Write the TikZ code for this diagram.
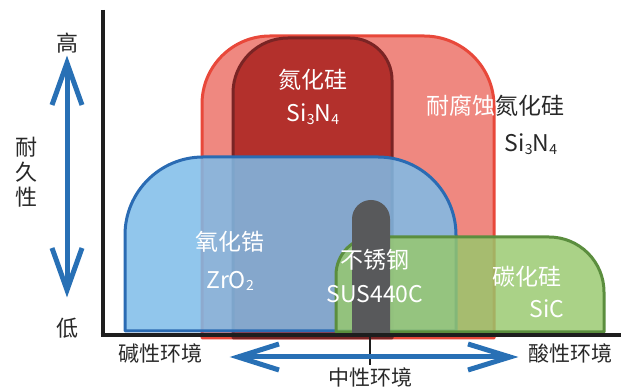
\documentclass[tikz,border=0pt]{standalone}
\usepackage{fontspec}
\newfontfamily\cjk{Noto Sans CJK SC}
\definecolor{redline}{RGB}{232,72,58}
\definecolor{redfill}{RGB}{239,136,128}
\definecolor{dredfill}{RGB}{179,48,44}
\definecolor{dredline}{RGB}{122,36,36}
\definecolor{bluefill}{RGB}{126,188,233}
\definecolor{blueline}{RGB}{42,107,179}
\definecolor{greenfill}{RGB}{151,200,108}
\definecolor{greenline}{RGB}{91,142,62}
\definecolor{steel}{RGB}{88,89,91}
\definecolor{arrowblue}{RGB}{40,112,181}
\definecolor{txt}{RGB}{40,40,40}
\definecolor{axis}{RGB}{30,30,30}
\newcommand\sbs[1]{\raisebox{-0.12em}{\fontsize{14}{14}\selectfont #1}}
\begin{document}
\begin{tikzpicture}[x=1pt,y=1pt,
  every node/.style={inner sep=0pt},
  lab/.style={font=\cjk\fontsize{22}{25}\selectfont, text=txt},
  axlab/.style={font=\cjk\fontsize{21}{24}\selectfont, text=txt},
  inlab/.style={font=\cjk\fontsize{23}{26}\selectfont, text=white},
  latin/.style={font=\cjk\fontsize{23}{26}\selectfont, text=white},
  region/.style={line width=3pt, line join=round},
  axisline/.style={line width=4pt, draw=axis},
  barrow/.style={line width=5pt, draw=arrowblue, line join=miter, line cap=butt}]
\useasboundingbox (0,0) rectangle (621,390);
% shapes
\draw[region, draw=redline, fill=redfill] (202,52) -- (202,286) arc[start angle=180,end angle=90,radius=68] -- (424,354) arc[start angle=90,end angle=0,radius=70] -- (494,52) -- cycle;
\draw[region, draw=dredline, fill=dredfill] (233,52) -- (233,297) arc[start angle=180,end angle=90,radius=55] -- (350,352) arc[start angle=90,end angle=0,radius=42] -- (392,52) -- cycle;
\draw[region, draw=blueline, fill=bluefill, fill opacity=0.85] (125,59) -- (125,155) arc[start angle=180,end angle=90,radius=78] -- (378,233) arc[start angle=90,end angle=0,radius=78] -- (456,59) -- cycle;
\draw[region, draw=greenline, fill=greenfill, fill opacity=0.82] (336,58) -- (336,115) arc[start angle=180,end angle=90,radius=38] -- (549,153) arc[start angle=90,end angle=0,radius=55] -- (604,58) -- cycle;
\fill[steel] (352,57) -- (352,171) arc[start angle=180,end angle=0,radius=19] -- (390,57) -- cycle;
% axes
\coordinate (ytop) at (102.5,380);
\coordinate (orig) at (102.5,53);
\coordinate (xstart) at (100.5,55);
\coordinate (xend) at (621,55);
\draw[axisline] (ytop) -- (orig);
\draw[axisline] (xstart) -- (xend);
% neutral tick
\coordinate (tickA) at (370,55);
\coordinate (tickB) at (370,25);
\draw[line width=2.5pt, draw=axis] (tickA) -- (tickB);
% vertical arrow
\coordinate (vt) at (67,327);
\coordinate (vb) at (67,100);
\draw[barrow] (vt) -- (vb);
\draw[barrow] (52,285) -- (vt) -- (82,285);
\draw[barrow] (52,142) -- (vb) -- (82,142);
% horizontal arrow
\coordinate (hl) at (238,33);
\coordinate (hr) at (510,33);
\draw[barrow] (hl) -- (hr);
\draw[barrow] (279,46) -- (hl) -- (279,20);
\draw[barrow] (468,46) -- (hr) -- (468,20);
% axis labels
\node[lab] (high) at (67,347) {高};
\node[lab] (low) at (67,62) {低};
\node[lab, align=center] (dur) at (27,218) {耐\\久\\性};
\node[axlab] (alk) at (160,37) {碱性环境};
\node[axlab] (neu) at (370,13) {中性环境};
\node[axlab] (acid) at (570,37) {酸性环境};
% shape labels
\node[inlab] (sn1) at (313,310) {氮化硅};
\node[latin] (sn1f) at (313,276) {Si\sbs{3}N\sbs{4}};
\node[inlab] (sn2) at (495,284) {\textcolor{white}{耐腐蚀}\textcolor{txt}{氮化硅}};
\node[latin, text=txt] (sn2f) at (531,246) {Si\sbs{3}N\sbs{4}};
\node[inlab] (zr) at (230,148) {氧化锆};
\node[latin] (zrf) at (230,109) {ZrO\sbs{2}};
\node[inlab] (ss) at (375,130) {不锈钢};
\node[latin] (ssf) at (375,96) {SUS440C};
\node[inlab] (sc) at (527,113) {碳化硅};
\node[latin] (scf) at (547,81) {SiC};
\end{tikzpicture}
\end{document}
